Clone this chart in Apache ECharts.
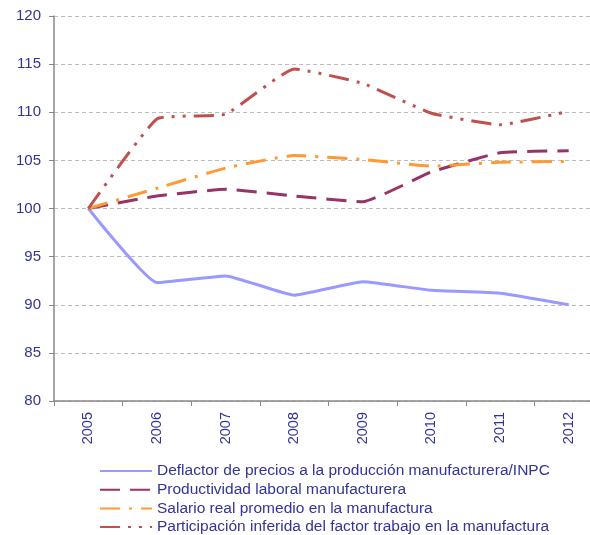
<!DOCTYPE html>
<html>
<head>
<meta charset="utf-8">
<script src="https://cdn.jsdelivr.net/npm/echarts@6/dist/echarts.min.js"></script>
<style>
  html, body { margin: 0; padding: 0; background: #fff; overflow: hidden; width: 590px; height: 535px; }
  /* the plot area runs past the right edge of the picture, as in the original */
  #chart { width: 603px; height: 535px; }
</style>
</head>
<body>
<div id="chart"></div>
<script>
"use strict";

// data
const years = ["2005", "2006", "2007", "2008", "2009", "2010", "2011", "2012"];
const deflactor = [100, 92.3, 93.0, 91.0, 92.4, 91.5, 91.2, 90.0];
const productividad = [100, 101.3, 102.0, 101.3, 100.7, 103.8, 105.8, 106.0];
const salario = [100, 102.1, 104.2, 105.5, 105.1, 104.4, 104.8, 104.9];
const participacion = [100, 109.3, 109.8, 114.5, 113.0, 109.9, 108.7, 110.1];

const seriesNames = [
  "Deflactor de precios a la producción manufacturera/INPC",
  "Productividad laboral manufacturera",
  "Salario real promedio en la manufactura",
  "Participación inferida del factor trabajo en la manufactura",
];

const text_color = "#333399";
const font = "Liberation Sans, Arial, sans-serif";

function make_series(name, values, color, dash) {
  return {
    name: name,
    type: "line",
    data: values,
    smooth: 0.12,
    symbol: "none",
    animation: false,
    lineStyle: { color: color, width: 3, type: dash, cap: "butt" },
    itemStyle: { color: color },
  };
}

const chart = echarts.init(document.getElementById("chart"));
chart.setOption({
  textStyle: { fontFamily: font },
  grid: { left: 54, right: 0, top: 16, bottom: 134, containLabel: false },
  xAxis: {
    type: "category",
    data: years,
    boundaryGap: true,
    axisLine: { lineStyle: { color: "#888888", width: 1.5 } },
    axisTick: { show: true, alignWithLabel: false, length: 5, lineStyle: { color: "#888888" } },
    axisLabel: { rotate: 90, color: text_color, fontSize: 14.5, fontFamily: font, margin: 11 },
  },
  yAxis: {
    type: "value",
    min: 80,
    max: 120,
    interval: 5,
    axisLine: { show: true, lineStyle: { color: "#888888", width: 1.5 } },
    axisTick: { show: true, length: 5, lineStyle: { color: "#888888" } },
    axisLabel: { color: text_color, fontSize: 15, fontFamily: font, margin: 13 },
    splitLine: { lineStyle: { color: "#BBBBBB", type: [4, 3] } },
  },
  legend: {
    orient: "vertical",
    left: 99,
    top: 463,
    width: 490,
    height: 80,
    padding: 0,
    itemWidth: 52,
    itemHeight: 10,
    itemGap: 2.7,
    itemStyle: { opacity: 0 },
    textStyle: { color: text_color, fontSize: 15.5, fontFamily: font },
    data: seriesNames,
  },
  series: [
    make_series(seriesNames[0], deflactor, "#9999FF", "solid"),
    make_series(seriesNames[1], productividad, "#993366", [20, 10]),
    make_series(seriesNames[2], salario, "#FF9933", [20, 9, 3, 9]),
    make_series(seriesNames[3], participacion, "#C0504D", [20, 8, 3, 8, 3, 8]),
  ],
});
</script>
</body>
</html>
